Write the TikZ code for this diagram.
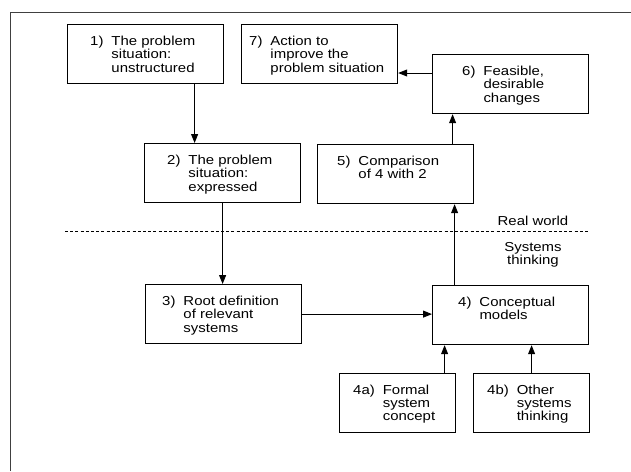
\documentclass[tikz,border=0pt]{standalone}
\usepackage{fontspec}
\setmainfont{Liberation Sans}[FakeStretch=1.15]
\usetikzlibrary{arrows.meta,calc}
\newcommand{\bt}[2]{\begin{tabular}[t]{@{}l@{\hskip 8pt}l@{}}#1 & #2\end{tabular}}
\begin{document}
\begin{tikzpicture}[x=1pt,y=-1pt,
  every node/.style={font=\fontsize{13}{13.4}\selectfont},
  stepbox/.style={draw, line width=1.2pt, minimum width=156pt, minimum height=59pt, inner sep=0pt, anchor=north west},
  smallbox/.style={stepbox, minimum width=116pt},
  txt/.style={anchor=base west, inner sep=0pt},
  arr/.style={line width=0.9pt, -{Triangle[length=9pt,width=7pt]}},
  frame/.style={line width=0.9pt, draw=black!75}]
\useasboundingbox (0,0) rectangle (631,471);
% outer frame
\coordinate (fbl) at (10,471);
\coordinate (ftl) at (10,12);
\coordinate (ftr) at (631,12);
\draw[frame] (fbl) -- (ftl) -- (ftr);
% boxes
\node[stepbox] (b1) at (67,24) {};
\node[stepbox] (b7) at (241,24) {};
\node[stepbox] (b6) at (432,54) {};
\node[stepbox] (b2) at (144,143) {};
\node[stepbox] (b5) at (317,144) {};
\node[stepbox] (b3) at (145,284) {};
\node[stepbox] (b4) at (432,285) {};
\node[smallbox] (b4a) at (339,373) {};
\node[smallbox] (b4b) at (473,373) {};
% texts
\node[txt] (t1) at ($(b1.north west)+(23,21.5)$) {\bt{1)}{The problem\\ & situation:\\ & unstructured}};
\node[txt] (t7) at ($(b7.north west)+(8,21.5)$) {\bt{7)}{Action to\\ & improve the\\ & problem situation}};
\node[txt] (t6) at ($(b6.north west)+(30,21.5)$) {\bt{6)}{Feasible,\\ & desirable\\ & changes}};
\node[txt] (t2) at ($(b2.north west)+(23,21.5)$) {\bt{2)}{The problem\\ & situation:\\ & expressed}};
\node[txt] (t5) at ($(b5.north west)+(20,21.5)$) {\bt{5)}{Comparison\\ & of 4 with 2}};
\node[txt] (t3) at ($(b3.north west)+(17,21.5)$) {\bt{3)}{Root definition\\ & of relevant\\ & systems}};
\node[txt] (t4) at ($(b4.north west)+(26,21)$) {\bt{4)}{Conceptual\\ & models}};
\node[txt] (t4a) at ($(b4a.north west)+(14,21)$) {\bt{4a)}{Formal\\ & system\\ & concept}};
\node[txt] (t4b) at ($(b4b.north west)+(14,21)$) {\bt{4b)}{Other\\ & systems\\ & thinking}};
% divider
\coordinate (dl) at (65,231);
\coordinate (dr) at (589,231);
\draw[line width=1pt, dash pattern=on 3pt off 2.2pt] (dl) -- (dr);
\node[anchor=base, inner sep=0pt] (rw) at (533,225) {Real world};
\node[anchor=base, inner sep=0pt] (st) at (533,251) {Systems};
\node[anchor=base, inner sep=0pt] (st2) at (533,264) {thinking};
% connectors
\draw[arr] ([xshift=49pt]b1.south) -- ([xshift=49pt]b1.south |- b2.north);
\draw[arr] (b2.south) -- (b2.south |- b3.north);
\draw[arr] (b3.east) -- (b3.east -| b4.west);
\draw[arr] ([xshift=-56pt]b4.north) -- ([xshift=-56pt]b4.north |- b5.south);
\draw[arr] ([xshift=57pt]b5.north) -- ([xshift=57pt]b5.north |- b6.south);
\draw[arr] ([yshift=-19pt]b6.north west) -- ([yshift=-19pt]b6.north west -| b7.east);
\draw[arr] ([xshift=47pt]b4a.north) -- ([xshift=47pt]b4a.north |- b4.south);
\draw[arr] (b4b.north) -- (b4b.north |- b4.south);
\end{tikzpicture}
\end{document}
